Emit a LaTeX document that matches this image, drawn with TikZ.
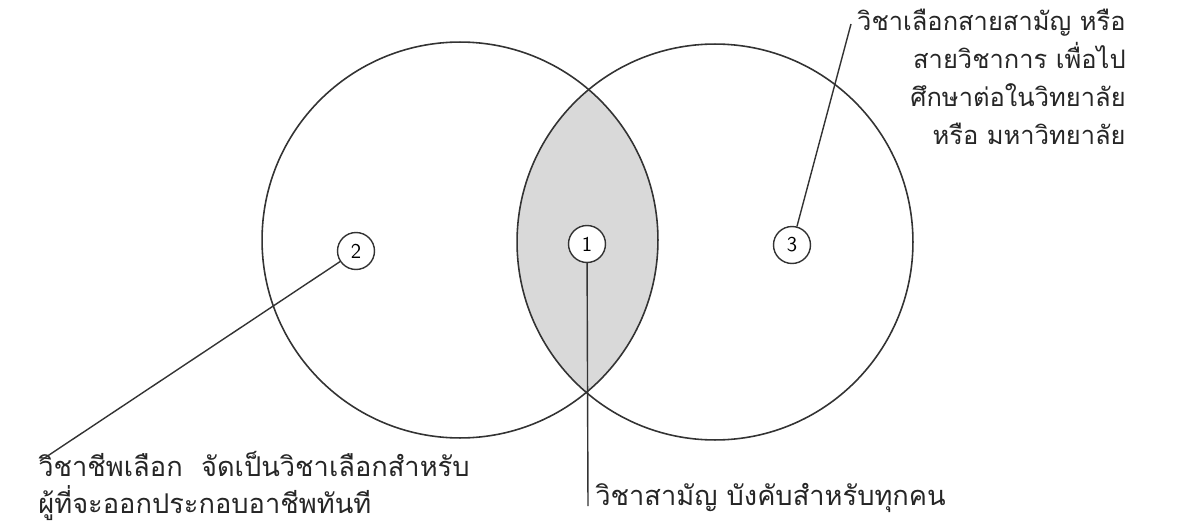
\documentclass[tikz,border=0pt]{standalone}
\usepackage{fontspec}
\newfontfamily\thaifont[Script=Thai]{Loma}
\usepackage{tikz}
\usetikzlibrary{positioning}

\begin{document}
\begin{tikzpicture}[
    x=0.02cm, y=-0.02cm,
    ring/.style={circle, draw=black!80, line width=0.9pt},
    num/.style={circle, draw=black!80, line width=0.8pt, fill=white, minimum size=0.74cm, inner sep=0pt, font=\sffamily\large},
    label/.style={font=\thaifont\fontsize{15.5}{21}\selectfont, text=black!85, inner sep=0pt},
    leader/.style={draw=black!80, line width=0.8pt}
]
\useasboundingbox (0,0) rectangle (1191,524);

% Lens shading
\begin{scope}
  \clip (460,240) circle (198);
  \fill[gray!30] (715,242) circle (198);
\end{scope}

% Circles
\node[ring, minimum size=7.92cm] (left) at (460,240) {};
\node[ring, minimum size=7.92cm] (right) at (715,242) {};

% Nodes
\node[num] (c1) at (587,244) {1};
\node[num] (c2) at (356,251) {2};
\node[num] (c3) at (792,245) {3};

\node[label, font=\thaifont\fontsize{14.5}{21.5}\selectfont, align=right, anchor=north east] (txt3) at (1126,9)
  {วิชาเลือกสายสามัญ หรือ\\สายวิชาการ เพื่อไป\\ศึกษาต่อในวิทยาลัย\\หรือ มหาวิทยาลัย};
\node[label, align=left, anchor=north west] (txt2) at (38,451)
  {วิชาชีพเลือก\ \ จัดเป็นวิชาเลือกสำหรับ\\ผู้ที่จะออกประกอบอาชีพทันที};
\node[label, anchor=base west] (txt1) at (595,505) {วิชาสามัญ บังคับสำหรับทุกคน};

\coordinate (end3) at (851,24);
\coordinate (end2) at (40,461);
\coordinate (end1) at (588,506);

% Edges
\draw[leader] (c3) -- (end3);
\draw[leader] (c2) -- (end2);
\draw[leader] (c1) -- (end1);

\end{tikzpicture}
\end{document}
